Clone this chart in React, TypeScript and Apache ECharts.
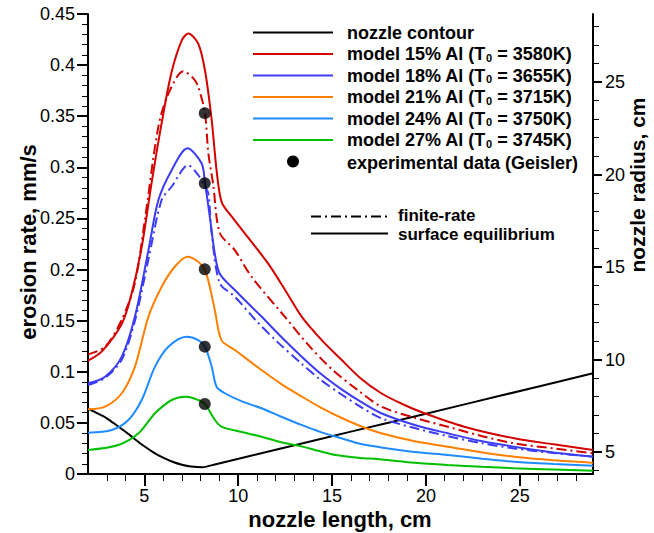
import React, { useEffect, useRef } from "react";
import * as echarts from "echarts";

const X_MIN = 2.0;
const X_MAX = 28.9;
const ER_MIN = 0;
const ER_MAX = 0.45;
const R_MIN = 3.82;
const R_MAX = 28.68;

const xMajorTicks = [5, 10, 15, 20, 25];
const xMinorTicks = [3, 4, 6, 7, 8, 9, 11, 12, 13, 14, 16, 17, 18, 19, 21, 22, 23, 24, 26, 27, 28];
const rMajorTicks = [5, 10, 15, 20, 25];
const rMinorTicks = [4, 6, 7, 8, 9, 11, 12, 13, 14, 16, 17, 18, 19, 21, 22, 23, 24, 26, 27, 28];

const seriesPercents = ["15%", "18%", "21%", "24%", "27%"];
const seriesTemps = ["3580K", "3655K", "3715K", "3750K", "3745K"];
const seriesColors = ["#d40000", "#3c3cf5", "#ff8000", "#1e8cff", "#00c000"];

// nozzle contour (radius, cm) vs length
const nozzle: [number, number][] = [
  [2.0, 7.35], [2.5, 7.1], [3, 6.83], [3.5, 6.47], [4, 6.1], [4.5, 5.7], [5, 5.32],
  [5.5, 4.98], [6, 4.7], [6.5, 4.48], [7, 4.32], [7.5, 4.22], [8.1, 4.18], [8.7, 4.32],
  [12, 5.13], [16, 6.11], [20, 7.08], [24, 8.06], [28.9, 9.26],
];

const red15Solid: [number, number][] = [
  [2.0, 0.111], [2.74, 0.12], [3.8, 0.147], [4.33, 0.177], [4.86, 0.222], [5.39, 0.285],
  [5.92, 0.343], [6.45, 0.393], [6.99, 0.424], [7.34, 0.431], [7.87, 0.421], [8.23, 0.395],
  [8.59, 0.346], [8.85, 0.297], [9.12, 0.266], [9.65, 0.252], [10.5, 0.232], [11.59, 0.206],
  [12.5, 0.18], [13.38, 0.154], [14.5, 0.13], [15.49, 0.112], [16.5, 0.094], [17.62, 0.079],
  [18.8, 0.068], [19.92, 0.0594], [22.04, 0.0463], [24.7, 0.0349], [26.8, 0.029], [28.9, 0.0235],
];
const red15Finite: [number, number][] = [
  [2.0, 0.117], [2.91, 0.1245], [3.8, 0.151], [4.5, 0.187], [5.04, 0.25], [5.75, 0.34],
  [6.28, 0.372], [7.08, 0.394], [7.61, 0.387], [7.87, 0.379], [8.23, 0.353], [8.41, 0.314],
  [8.67, 0.283], [9.02, 0.236], [9.82, 0.219], [10.71, 0.193], [12.48, 0.154], [13.7, 0.127],
  [14.96, 0.103], [16.3, 0.083], [17.62, 0.066], [19.4, 0.055], [21.16, 0.0463], [23, 0.037],
  [24.7, 0.03], [26.8, 0.025], [28.9, 0.0203],
];
const blue18Solid: [number, number][] = [
  [2.0, 0.0887], [2.91, 0.0952], [3.8, 0.1148], [4.5, 0.154], [5.22, 0.219], [5.75, 0.268],
  [6.45, 0.297], [7.3, 0.3186], [8.05, 0.304], [8.23, 0.285], [8.5, 0.25], [8.76, 0.215],
  [9.02, 0.196], [9.82, 0.18], [11.24, 0.154], [12.3, 0.134], [13.37, 0.115], [14.4, 0.098],
  [15.49, 0.083], [16.5, 0.071], [17.62, 0.0594], [19.4, 0.048], [21.16, 0.0398], [23, 0.032],
  [24.7, 0.0267], [26.8, 0.021], [28.9, 0.0169],
];
const blue18Finite: [number, number][] = [
  [2.0, 0.087], [2.91, 0.094], [3.8, 0.112], [4.5, 0.15], [5.22, 0.21], [5.92, 0.268],
  [6.45, 0.281], [7.34, 0.302], [7.87, 0.2925], [8.23, 0.281], [8.41, 0.2746], [8.59, 0.2355],
  [9.02, 0.1866], [9.82, 0.1735], [10.92, 0.1507], [12.1, 0.129], [13.37, 0.108], [14.4, 0.092],
  [15.49, 0.078], [16.5, 0.066], [17.62, 0.0545], [19.4, 0.045], [21.16, 0.037], [23, 0.03],
  [24.7, 0.025], [26.8, 0.0205], [28.9, 0.017],
];
const orange21: [number, number][] = [
  [2.0, 0.0633], [2.91, 0.0659], [3.8, 0.079], [4.5, 0.105], [5.22, 0.154], [5.92, 0.183],
  [6.63, 0.203], [7.3, 0.2126], [7.87, 0.2077], [8.23, 0.1996], [8.49, 0.183], [8.76, 0.16],
  [9.11, 0.131], [9.82, 0.1213], [11.24, 0.1017], [12.3, 0.088], [13.37, 0.076], [14.4, 0.065],
  [15.49, 0.055], [16.5, 0.047], [17.62, 0.0398], [19.4, 0.032], [21.16, 0.0267], [23, 0.021],
  [24.7, 0.0169], [26.8, 0.0135], [28.9, 0.011],
];
const lightBlue24: [number, number][] = [
  [2.0, 0.0404], [3.27, 0.043], [4.15, 0.0528], [4.86, 0.0724], [5.57, 0.105], [6.28, 0.1245],
  [7.25, 0.1343], [7.87, 0.131], [8.23, 0.1245], [8.59, 0.105], [8.85, 0.0854], [9.29, 0.079],
  [10.2, 0.071], [11.24, 0.0643], [12.3, 0.056], [13.37, 0.048], [14.4, 0.041], [15.49, 0.035],
  [16.5, 0.0295], [17.62, 0.026], [19.4, 0.0215], [21.16, 0.0186], [23, 0.015], [24.7, 0.012],
  [26.8, 0.0098], [28.9, 0.0081],
];
const green27: [number, number][] = [
  [2.0, 0.0235], [3.62, 0.0284], [4.69, 0.0398], [5.57, 0.0594], [6.46, 0.0724], [7.25, 0.0756],
  [7.87, 0.0724], [8.23, 0.0685], [8.76, 0.0528], [9.11, 0.0463], [10.2, 0.041], [11.24, 0.0365],
  [12.3, 0.031], [13.37, 0.027], [14.3, 0.0225], [15.2, 0.0186], [16.4, 0.016], [17.62, 0.0143],
  [19.4, 0.011], [21.16, 0.0088], [23, 0.007], [24.7, 0.0056], [26.8, 0.0043], [28.9, 0.0032],
];
const experimental: [number, number][] = [
  [8.22, 0.353], [8.22, 0.2844], [8.22, 0.2002], [8.22, 0.1246], [8.22, 0.0685],
];

const FONT = "'Liberation Sans', Arial, Helvetica, sans-serif";

export default function App() {
  const ref = useRef<HTMLDivElement>(null);
  useEffect(() => {
    if (!ref.current) return;
    const chart = echarts.init(ref.current, undefined, { renderer: "svg" });

    const lineSeries = (data: [number, number][], color: string, dash: boolean, yIdx = 0, smooth = 0.3) => ({
      type: "line",
      data,
      xAxisIndex: 0,
      yAxisIndex: yIdx,
      showSymbol: false,
      smooth,
      lineStyle: { color, width: 2, type: dash ? [10, 4, 2, 4] : "solid" },
      z: 3,
    });

    const legendRowY = [32.5, 54, 75.5, 97, 118.5, 140, 161.5];
    const legendFont = { fontSize: 18, fontWeight: "bold", fontFamily: FONT, fill: "#000" };
    const graphics: any[] = [];
    graphics.push({
      type: "line",
      shape: { x1: 253, y1: legendRowY[0], x2: 333, y2: legendRowY[0] },
      style: { stroke: "#000", lineWidth: 2 },
    });
    graphics.push({
      type: "text",
      x: 347,
      y: legendRowY[0],
      style: { text: "nozzle contour", ...legendFont, verticalAlign: "middle" },
    });
    seriesPercents.forEach((p, i) => {
      const y = legendRowY[i + 1];
      graphics.push({
        type: "line",
        shape: { x1: 253, y1: y, x2: 333, y2: y },
        style: { stroke: seriesColors[i], lineWidth: 2 },
      });
      graphics.push({
        type: "text",
        x: 347,
        y,
        style: {
          text: `{a|model ${p} Al (T}{s|0}{a| = ${seriesTemps[i]})}`,
          verticalAlign: "middle",
          rich: {
            a: { fontSize: 18, fontWeight: "bold", fontFamily: FONT, fill: "#000", lineHeight: 18 },
            s: { fontSize: 11, fontWeight: "bold", fontFamily: FONT, fill: "#000", verticalAlign: "bottom", padding: [6, 0, 0, 0] },
          },
        },
      });
    });
    graphics.push({
      type: "circle",
      shape: { cx: 293, cy: legendRowY[6], r: 6 },
      style: { fill: "#000" },
    });
    graphics.push({
      type: "text",
      x: 347,
      y: legendRowY[6] + 1,
      style: { text: "experimental data (Geisler)", ...legendFont, verticalAlign: "middle" },
    });
    graphics.push({
      type: "line",
      shape: { x1: 311, y1: 216.5, x2: 388, y2: 216.5 },
      style: { stroke: "#000", lineWidth: 2, lineDash: [10, 4, 2, 4] },
    });
    graphics.push({
      type: "line",
      shape: { x1: 311, y1: 233.5, x2: 388, y2: 233.5 },
      style: { stroke: "#000", lineWidth: 2 },
    });
    graphics.push({
      type: "text",
      x: 398,
      y: 215,
      style: { text: "finite-rate", ...legendFont, fontSize: 17, verticalAlign: "middle" },
    });
    graphics.push({
      type: "text",
      x: 398,
      y: 234,
      style: { text: "surface equilibrium", ...legendFont, fontSize: 17, verticalAlign: "middle" },
    });
    graphics.push({
      type: "text",
      x: 28,
      y: 242,
      rotation: Math.PI / 2,
      style: { text: "erosion rate, mm/s", fill: "#000", fontSize: 22, fontWeight: "bold", fontFamily: FONT, align: "center", verticalAlign: "middle" },
    });
    graphics.push({
      type: "text",
      x: 637,
      y: 185,
      rotation: Math.PI / 2,
      style: { text: "nozzle radius, cm", fill: "#000", fontSize: 21, fontWeight: "bold", fontFamily: FONT, align: "center", verticalAlign: "middle" },
    });
    graphics.push({
      type: "text",
      x: 340,
      y: 519,
      style: { text: "nozzle length, cm", fill: "#000", fontSize: 22, fontWeight: "bold", fontFamily: FONT, align: "center", verticalAlign: "middle" },
    });

    const axisLine = { show: true, lineStyle: { color: "#000", width: 2 } };
    const labelStyle = { color: "#000", fontSize: 18, fontFamily: FONT };

    chart.setOption({
      animation: false,
      backgroundColor: "#fff",
      grid: { left: 88, right: 61, top: 14, bottom: 59, containLabel: false },
      xAxis: [
        {
          type: "value",
          min: X_MIN,
          max: X_MAX,
          position: "bottom",
          axisLine,
          axisTick: { show: true, customValues: xMajorTicks, length: 12, lineStyle: { color: "#000", width: 2 } },
          axisLabel: { show: true, customValues: xMajorTicks, margin: 13, ...labelStyle },
          splitLine: { show: false },
        },
        {
          type: "value",
          min: X_MIN,
          max: X_MAX,
          position: "bottom",
          offset: 0,
          axisLine: { show: false },
          axisTick: { show: true, customValues: xMinorTicks, length: 7, lineStyle: { color: "#000", width: 1 } },
          axisLabel: { show: false },
          splitLine: { show: false },
        },
      ],
      yAxis: [
        {
          type: "value",
          min: ER_MIN,
          max: ER_MAX,
          interval: 0.05,
          position: "left",
          axisLine,
          axisTick: { show: true, length: 11, lineStyle: { color: "#000", width: 2 } },
          minorTick: { show: true, splitNumber: 5, length: 6, lineStyle: { color: "#000", width: 1 } },
          axisLabel: { ...labelStyle, margin: 13, formatter: (v: number) => String(+v.toFixed(2)) },
          splitLine: { show: false },
          minorSplitLine: { show: false },
        },
        {
          type: "value",
          min: R_MIN,
          max: R_MAX,
          position: "right",
          offset: 0,
          axisLine,
          axisTick: { show: true, customValues: rMajorTicks, length: 9, lineStyle: { color: "#000", width: 2 } },
          axisLabel: { show: true, customValues: rMajorTicks, margin: 12, ...labelStyle },
          splitLine: { show: false },
        },
        {
          type: "value",
          min: R_MIN,
          max: R_MAX,
          position: "right",
          offset: 0,
          axisLine: { show: false },
          axisTick: { show: true, customValues: rMinorTicks, length: 6, lineStyle: { color: "#000", width: 1 } },
          axisLabel: { show: false },
          splitLine: { show: false },
        },
      ],
      series: [
        lineSeries(nozzle, "#000", false, 1, 0.2),
        lineSeries(green27, seriesColors[4], false),
        lineSeries(lightBlue24, seriesColors[3], false),
        lineSeries(orange21, seriesColors[2], false),
        lineSeries(blue18Finite, seriesColors[1], true),
        lineSeries(blue18Solid, seriesColors[1], false),
        lineSeries(red15Finite, seriesColors[0], true),
        lineSeries(red15Solid, seriesColors[0], false),
        {
          type: "scatter",
          data: experimental,
          xAxisIndex: 0,
          yAxisIndex: 0,
          symbol: "circle",
          symbolSize: 12,
          itemStyle: { color: "#000" },
          z: 5,
        },
      ],
      graphic: graphics,
    });
    return () => chart.dispose();
  }, []);
  return <div ref={ref} style={{ position: "fixed", left: 0, top: 0, width: 654, height: 533, background: "#fff" }} />;
}
